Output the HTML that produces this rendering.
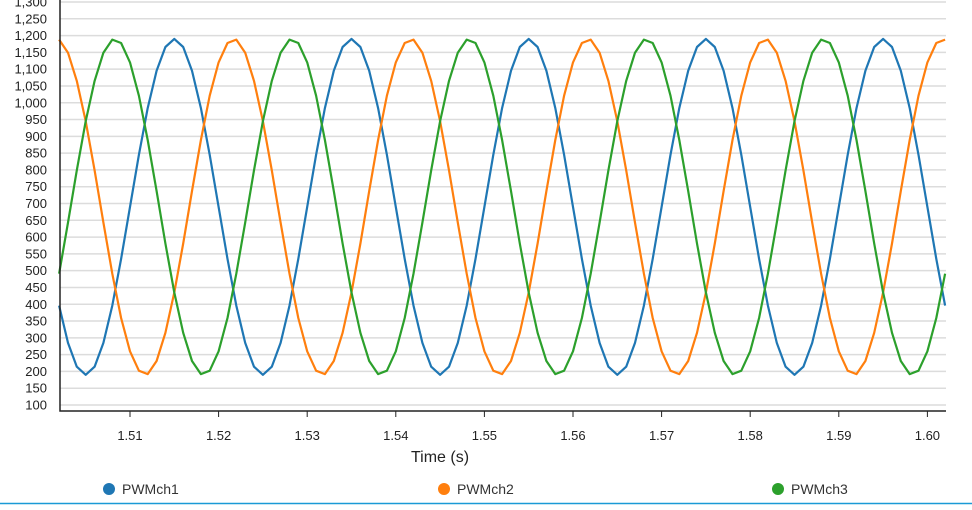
<!DOCTYPE html>
<html><head><meta charset="utf-8"><style>
body{margin:0;background:#fff;width:972px;height:505px;overflow:hidden;font-family:"Liberation Sans",Arial,sans-serif}
</style></head><body>
<svg id="chart" width="972" height="505" xmlns="http://www.w3.org/2000/svg" font-family="Liberation Sans, Arial, sans-serif">
<g id="grid"></g>
<g id="series"></g>
<g id="axes"></g>
<text x="440" y="462" font-size="16" text-anchor="middle" fill="#222">Time (s)</text>
<g>
<g><circle cx="109" cy="489" r="6" fill="#1f77b4"/><text x="122" y="494" font-size="14" fill="#333">PWMch1</text></g>
<g><circle cx="444" cy="489" r="6" fill="#ff7f0e"/><text x="457" y="494" font-size="14" fill="#333">PWMch2</text></g>
<g><circle cx="778" cy="489" r="6" fill="#2ca02c"/><text x="791" y="494" font-size="14" fill="#333">PWMch3</text></g>
</g>
<line x1="0" y1="503.5" x2="972" y2="503.5" stroke="#1a9ad6" stroke-width="1.5"/>
</svg>
<script>
const t0 = 1.502, dt = 0.001;
const xTicks = [1.51,1.52,1.53,1.54,1.55,1.56,1.57,1.58,1.59,1.60];
const xTickLabels = ["1.51","1.52","1.53","1.54","1.55","1.56","1.57","1.58","1.59","1.60"];
const yTicks = [100,150,200,250,300,350,400,450,500,550,600,650,700,750,800,850,900,950,1000,1050,1100,1150,1200,1250,1300];
const seriesNames = ["PWMch1","PWMch2","PWMch3"];
const ch1 = [396,285,214,190,214,285,396,535,690,845,984,1095,1166,1190,1166,1095,984,845,690,535,
396,285,214,190,214,285,396,535,690,845,984,1095,1166,1190,1166,1095,984,845,690,535,
396,285,214,190,214,285,396,535,690,845,984,1095,1166,1190,1166,1095,984,845,690,535,
396,285,214,190,214,285,396,535,690,845,984,1095,1166,1190,1166,1095,984,845,690,535,
396,285,214,190,214,285,396,535,690,845,984,1095,1166,1190,1166,1095,984,845,690,535,396];
const ch2 = [1188,1149,1065,945,799,643,491,359,260,202,192,231,315,435,581,737,889,1021,1120,1178,
1188,1149,1065,945,799,643,491,359,260,202,192,231,315,435,581,737,889,1021,1120,1178,
1188,1149,1065,945,799,643,491,359,260,202,192,231,315,435,581,737,889,1021,1120,1178,
1188,1149,1065,945,799,643,491,359,260,202,192,231,315,435,581,737,889,1021,1120,1178,
1188,1149,1065,945,799,643,491,359,260,202,192,231,315,435,581,737,889,1021,1120,1178,1188];
const ch3 = [491,643,799,945,1065,1149,1188,1178,1120,1021,889,737,581,435,315,231,192,202,260,359,
491,643,799,945,1065,1149,1188,1178,1120,1021,889,737,581,435,315,231,192,202,260,359,
491,643,799,945,1065,1149,1188,1178,1120,1021,889,737,581,435,315,231,192,202,260,359,
491,643,799,945,1065,1149,1188,1178,1120,1021,889,737,581,435,315,231,192,202,260,359,
491,643,799,945,1065,1149,1188,1178,1120,1021,889,737,581,435,315,231,192,202,260,359,491];
const colors = ["#1f77b4","#ff7f0e","#2ca02c"];
const NS = "http://www.w3.org/2000/svg";
const L=60,R=946,T=2,B=405;
const xMin=1.5021,xMax=1.6021;
function xs(v){return L+(v-xMin)/(xMax-xMin)*(R-L);}
function ys(v){return B-(v-100)/(1300-100)*(B-T);}
function mk(tag,attrs,parent){const e=document.createElementNS(NS,tag);for(const k in attrs)e.setAttribute(k,attrs[k]);parent.appendChild(e);return e;}
const grid=document.getElementById('grid'),axes=document.getElementById('axes'),ser=document.getElementById('series');
yTicks.forEach(v=>{
  const l=mk('line',{x1:L,x2:R,y1:ys(v),y2:ys(v),stroke:'#dcdcdc','stroke-width':1.5},grid);
  
  
  const t=mk('text',{x:47,y:ys(v)+4.5,'font-size':13,'text-anchor':'end',fill:'#222'},axes);
  t.textContent=v.toLocaleString('en-US');
  
  
});
xTicks.forEach((v,i)=>{
  const l=mk('line',{x1:xs(v),x2:xs(v),y1:411,y2:417,stroke:'#222','stroke-width':1},axes);
  
  
  const t=mk('text',{x:xs(v),y:440,'font-size':13,'text-anchor':'middle',fill:'#222'},axes);
  t.textContent=xTickLabels[i];
  
  
});
const ax=mk('path',{d:`M${L},0 V411 H${R}`,fill:'none',stroke:'#222','stroke-width':1.5},axes);


[ch1,ch2,ch3].forEach((arr,si)=>{
  const d=arr.map((v,i)=>(i?'L':'M')+xs(t0+i*dt).toFixed(1)+','+ys(v).toFixed(1)).join(' ');
  const p=mk('path',{d:d,fill:'none',stroke:colors[si],'stroke-width':2.2,'stroke-linejoin':'round'},ser);
  
  
});
</script>
</body></html>
